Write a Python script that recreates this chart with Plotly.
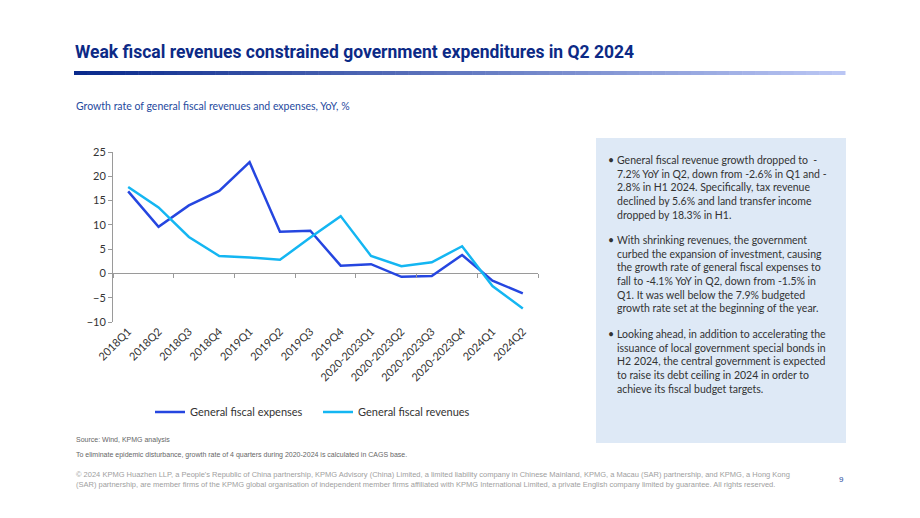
import plotly.graph_objects as go

categories = ["2018Q1", "2018Q2", "2018Q3", "2018Q4", "2019Q1", "2019Q2", "2019Q3",
              "2019Q4", "2020-2023Q1", "2020-2023Q2", "2020-2023Q3", "2020-2023Q4",
              "2024Q1", "2024Q2"]
expenses = [16.9, 9.6, 14.0, 17.0, 22.9, 8.6, 8.8, 1.6, 1.9, -0.7, -0.55, 3.8, -1.5, -4.1]
revenues = [17.8, 13.6, 7.5, 3.6, 3.3, 2.8, 7.4, 11.8, 3.6, 1.5, 2.3, 5.6, -2.6, -7.2]
y_ticks = [-10, -5, 0, 5, 10, 15, 20, 25]

title_text = "Weak fiscal revenues constrained government expenditures in Q2 2024"
subtitle_text = "Growth rate of general fiscal revenues and expenses, YoY, %"
bullets = [
    "General fiscal revenue growth dropped to  -<br>7.2% YoY in Q2, down from -2.6% in Q1 and -<br>2.8% in H1 2024. Specifically, tax revenue<br>declined by 5.6% and land transfer income<br>dropped by 18.3% in H1.",
    "With shrinking revenues, the government<br>curbed the expansion of investment, causing<br>the growth rate of general fiscal expenses to<br>fall to -4.1% YoY in Q2, down from -1.5% in<br>Q1. It was well below the 7.9% budgeted<br>growth rate set at the beginning of the year.",
    "Looking ahead, in addition to accelerating the<br>issuance of local government special bonds in<br>H2 2024, the central government is expected<br>to raise its debt ceiling in 2024 in order to<br>achieve its fiscal budget targets.",
]
source_text = "Source: Wind, KPMG analysis"
note_text = "To eliminate epidemic disturbance, growth rate of 4 quarters during 2020-2024 is calculated in CAGS base."
copyright_text = ("© 2024 KPMG Huazhen LLP, a People's Republic of China partnership, KPMG Advisory (China) Limited, a limited liability company in Chinese Mainland, KPMG, a Macau (SAR) partnership, and KPMG, a Hong Kong<br>"
                  "(SAR) partnership, are member firms of the KPMG global organisation of independent member firms affiliated with KPMG International Limited, a private English company limited by guarantee. All rights reserved.")

W, H = 920, 518
L, R, T, B = 113, 538, 152, 322  # plot area in pixels


def px(x):
    return (x - L) / (R - L)


def py(y):
    return (B - y) / (B - T)


BODY_FONT = "Lato, Carlito, Calibri, sans-serif"
xidx = list(range(len(categories)))

fig = go.Figure()
fig.add_trace(go.Scatter(x=xidx, y=expenses, mode="lines", name="General fiscal expenses",
                         line=dict(color="#2546E0", width=2.5)))
fig.add_trace(go.Scatter(x=xidx, y=revenues, mode="lines", name="General fiscal revenues",
                         line=dict(color="#14B6F2", width=2.5)))
# invisible trace on xaxis2 to activate boundary tick axis
fig.add_trace(go.Scatter(x=[-0.5, 13.5], y=[0, 0], xaxis="x2", mode="lines",
                         line=dict(width=0), showlegend=False, hoverinfo="skip"))

fig.update_layout(
    width=W, height=H,
    margin=dict(l=L, r=W - R, t=T, b=H - B),
    paper_bgcolor="white", plot_bgcolor="white",
    showlegend=True,
    legend=dict(orientation="h", x=px(150), y=py(412), xanchor="left", yanchor="middle",
                font=dict(family=BODY_FONT, size=11, color="#333333"),
                tracegroupgap=0, entrywidth=123),
    xaxis=dict(range=[-0.5, 13.5], tickmode="array", tickvals=xidx, ticktext=categories,
               tickangle=-45, showgrid=False, showline=False, ticks="", zeroline=False,
               tickfont=dict(family=BODY_FONT, size=11, color="#333333")),
    xaxis2=dict(range=[-0.5, 13.5], overlaying="x", anchor="free", position=10 / 35,
                tickmode="array", tickvals=[-0.5, 1.5, 3.5, 5.5, 7.5, 9.5, 11.5, 13.5],
                showticklabels=False, ticks="outside", ticklen=4, tickcolor="#9a9a9a",
                showgrid=False, showline=False, zeroline=False),
    yaxis=dict(range=[-10, 25], tickmode="array", tickvals=y_ticks, showgrid=False,
               showline=True, linecolor="#9a9a9a", linewidth=1, ticks="outside",
               ticklen=4, tickcolor="#9a9a9a", zeroline=True, zerolinecolor="#9a9a9a",
               zerolinewidth=1,
               tickfont=dict(family=BODY_FONT, size=11, color="#333333")),
)

shapes = []
# gradient bar under the title
n = 60
x0, x1 = 74, 845
c0 = (10, 42, 140)
c1 = (186, 198, 244)
for i in range(n):
    t = i / (n - 1)
    col = tuple(round(c0[k] + (c1[k] - c0[k]) * t) for k in range(3))
    xa = x0 + (x1 - x0) * i / n
    xb = x0 + (x1 - x0) * (i + 1) / n + 0.5
    shapes.append(dict(type="rect", xref="paper", yref="paper",
                       x0=px(xa), x1=px(xb), y0=py(75), y1=py(71),
                       fillcolor="rgb(%d,%d,%d)" % col, line=dict(width=0), layer="above"))
# text box
shapes.append(dict(type="rect", xref="paper", yref="paper", x0=px(596), x1=px(846),
                   y0=py(443), y1=py(138), fillcolor="#DEE9F6", line=dict(width=0), layer="below"))
fig.update_layout(shapes=shapes)

ann = []
ann.append(dict(text="<b>" + title_text + "</b>", x=px(73), y=py(52), xref="paper", yref="paper",
                xanchor="left", yanchor="middle", showarrow=False,
                font=dict(family="Roboto, sans-serif", size=17.5, color="#0C2A86")))
ann.append(dict(text=subtitle_text, x=px(74), y=py(106), xref="paper", yref="paper",
                xanchor="left", yanchor="middle", showarrow=False,
                font=dict(family=BODY_FONT, size=10.5, color="#1F4A9E")))
starts = [152, 232, 326]
for s, b in zip(starts, bullets):
    ann.append(dict(text="•", x=px(606), y=py(s), xref="paper", yref="paper",
                    xanchor="left", yanchor="top", showarrow=False,
                    font=dict(family=BODY_FONT, size=10.5, color="#333333")))
    ann.append(dict(text=b, x=px(615), y=py(s), xref="paper", yref="paper",
                    xanchor="left", yanchor="top", align="left", showarrow=False,
                    font=dict(family=BODY_FONT, size=10.5, color="#333333")))
ann.append(dict(text=source_text, x=px(74), y=py(440), xref="paper", yref="paper",
                xanchor="left", yanchor="middle", showarrow=False,
                font=dict(family="Liberation Sans Narrow, sans-serif", size=7, color="#666666")))
ann.append(dict(text=note_text, x=px(74), y=py(455), xref="paper", yref="paper",
                xanchor="left", yanchor="middle", showarrow=False,
                font=dict(family="Liberation Sans Narrow, sans-serif", size=7, color="#666666")))
ann.append(dict(text=copyright_text, x=px(74), y=py(479), xref="paper", yref="paper",
                xanchor="left", yanchor="middle", align="left", showarrow=False,
                font=dict(family="Liberation Sans Narrow, sans-serif", size=7.5, color="#A0A0A0")))
ann.append(dict(text="9", x=px(841), y=py(479), xref="paper", yref="paper",
                xanchor="center", yanchor="middle", showarrow=False,
                font=dict(family="Liberation Sans Narrow, sans-serif", size=8, color="#1F4A9E")))
fig.update_layout(annotations=ann)

fig.write_html("out.html")
